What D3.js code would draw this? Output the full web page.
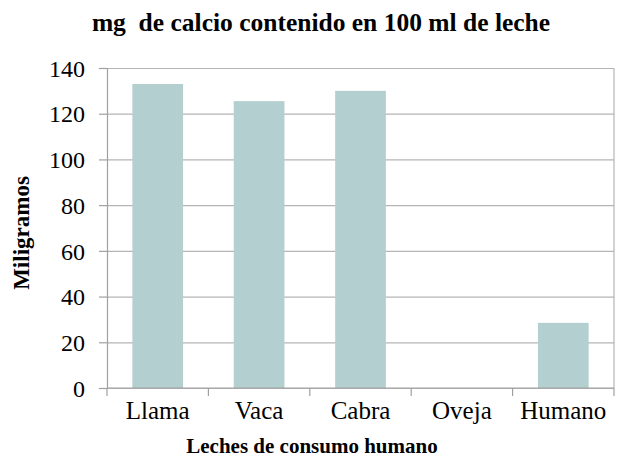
<!DOCTYPE html>
<html>
<head>
<meta charset="utf-8">
<script src="https://cdnjs.cloudflare.com/ajax/libs/d3/7.8.5/d3.min.js"></script>
<style>
  body { margin: 0; background: #fff; }
  svg text { font-family: "Liberation Serif", "Times New Roman", serif; fill: #000; }
</style>
</head>
<body>
<svg id="chart"></svg>
<script>
var categories = ['Llama', 'Vaca', 'Cabra', 'Oveja', 'Humano']
var values = [133, 125.5, 130, 0, 28.5]
var yTicks = [0, 20, 40, 60, 80, 100, 120, 140]

var width = 620
var height = 457
var margin = { top: 68, right: 6, bottom: 69, left: 107 }

var svg = d3.select('#chart')
  .attr('width', width)
  .attr('height', height)

var x = d3.scaleBand()
  .domain(categories)
  .range([margin.left, width - margin.right])
  .paddingInner(0.5)
  .paddingOuter(0.25)

var y = d3.scaleLinear()
  .domain([0, 140])
  .range([height - margin.bottom, margin.top])

var gridColor = '#b5b5b5'
var axisColor = '#a0a0a0'

// gridlines
svg.append('g')
  .selectAll('line')
  .data(yTicks)
  .enter().append('line')
  .attr('x1', margin.left)
  .attr('x2', width - margin.right)
  .attr('y1', function (d) { return y(d) + 0.5 })
  .attr('y2', function (d) { return y(d) + 0.5 })
  .attr('stroke', gridColor)
  .attr('stroke-width', 1.2)

// right border of plot area
svg.append('line')
  .attr('x1', width - margin.right)
  .attr('x2', width - margin.right)
  .attr('y1', y(140))
  .attr('y2', y(0))
  .attr('stroke', gridColor)
  .attr('stroke-width', 1.2)

// bars
svg.append('g')
  .selectAll('rect')
  .data(values)
  .enter().append('rect')
  .attr('x', function (d, i) { return x(categories[i]) })
  .attr('y', function (d) { return y(d) })
  .attr('width', x.bandwidth())
  .attr('height', function (d) { return y(0) - y(d) })
  .attr('fill', '#b4cfd0')

// y axis
var yAxis = svg.append('g')
  .attr('transform', 'translate(' + margin.left + ',0)')
  .call(d3.axisLeft(y).tickValues(yTicks).tickSize(8).tickPadding(14).tickSizeOuter(0))
yAxis.selectAll('path, line').attr('stroke', axisColor).attr('stroke-width', 1.2)
yAxis.selectAll('text').style('font-size', '24px').attr('dy', '0.34em')

// x axis with ticks at category boundaries
var step = x.step()
var bounds = d3.range(categories.length + 1).map(function (i) {
  return margin.left + i * step
})
var xAxis = svg.append('g')
xAxis.append('line')
  .attr('x1', margin.left)
  .attr('x2', width - margin.right)
  .attr('y1', y(0))
  .attr('y2', y(0))
  .attr('stroke', axisColor)
  .attr('stroke-width', 1.2)
xAxis.selectAll('.xtick')
  .data(bounds)
  .enter().append('line')
  .attr('class', 'xtick')
  .attr('x1', function (d) { return d })
  .attr('x2', function (d) { return d })
  .attr('y1', y(0))
  .attr('y2', y(0) + 8)
  .attr('stroke', axisColor)
  .attr('stroke-width', 1.2)
xAxis.selectAll('.xlabel')
  .data(categories)
  .enter().append('text')
  .attr('class', 'xlabel')
  .attr('x', function (d) { return x(d) + x.bandwidth() / 2 })
  .attr('y', y(0) + 31)
  .attr('text-anchor', 'middle')
  .style('font-size', '25px')
  .text(function (d) { return d })

// title
svg.append('text')
  .attr('x', 321)
  .attr('y', 31)
  .attr('text-anchor', 'middle')
  .style('font-size', '25.5px')
  .style('font-weight', 'bold')
  .style('white-space', 'pre')
  .text('mg  de calcio contenido en 100 ml de leche')

// axis titles
svg.append('text')
  .attr('x', 312)
  .attr('y', 453)
  .attr('text-anchor', 'middle')
  .style('font-size', '21px')
  .style('font-weight', 'bold')
  .text('Leches de consumo humano')

svg.append('text')
  .attr('transform', 'translate(29,233) rotate(-90)')
  .attr('text-anchor', 'middle')
  .style('font-size', '23px')
  .style('font-weight', 'bold')
  .text('Miligramos')
</script>
</body>
</html>
